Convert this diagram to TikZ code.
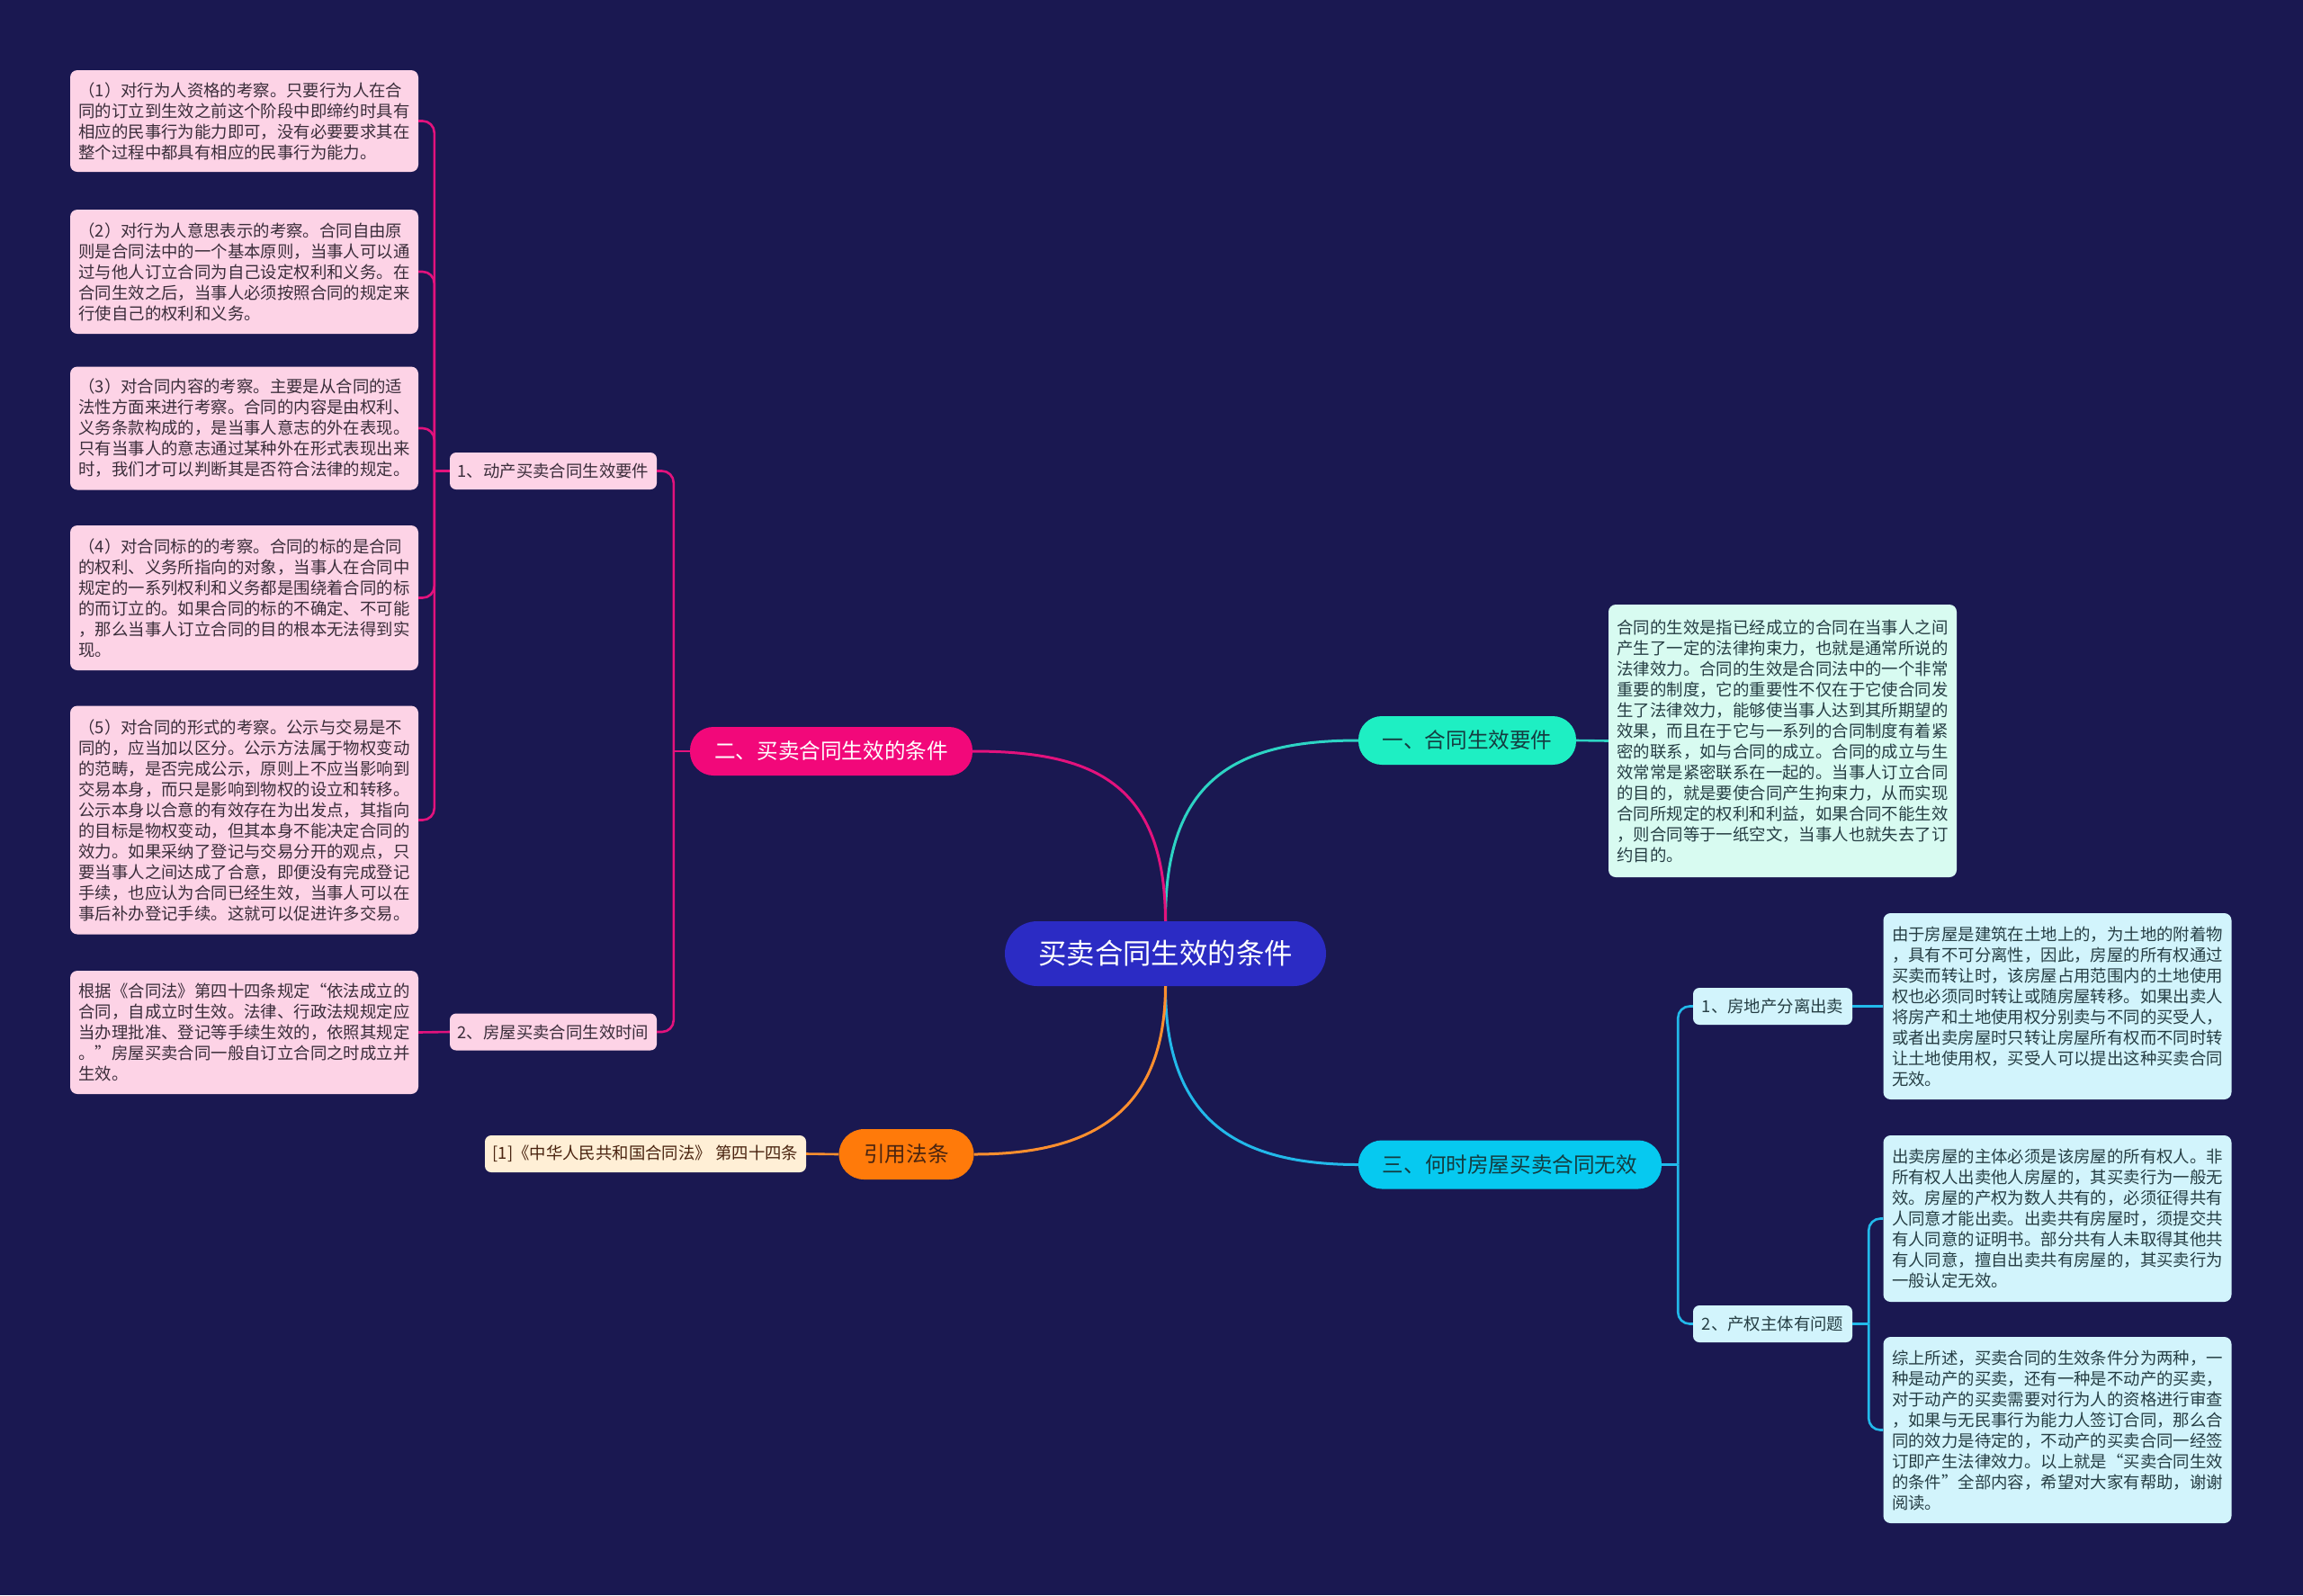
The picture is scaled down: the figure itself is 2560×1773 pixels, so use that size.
\documentclass[tikz,border=0pt]{standalone}
\usepackage{fontspec}
\setmainfont{Noto Sans CJK SC}
\definecolor{bg}{HTML}{1A1851}
\definecolor{lfill}{HTML}{FDD3E6}
\definecolor{ltext}{HTML}{3A2D3A}
\definecolor{r0fill}{HTML}{D8FBF1}
\definecolor{rfill}{HTML}{D2F4FC}
\definecolor{rtext}{HTML}{263E44}
\definecolor{cfill}{HTML}{2B2BC4}
\definecolor{tealfill}{HTML}{1EEFC3}
\definecolor{cyanfill}{HTML}{06C9F0}
\definecolor{pinkfill}{HTML}{F2087A}
\definecolor{orangefill}{HTML}{FF7A0A}
\definecolor{reffill}{HTML}{FFEFD6}
\definecolor{tealline}{HTML}{2DD4C4}
\definecolor{cyanline}{HTML}{22B9EA}
\definecolor{pinkline}{HTML}{E3127D}
\definecolor{orangeline}{HTML}{FF8F2E}
\definecolor{darkpill}{HTML}{143C40}
\definecolor{browntext}{HTML}{4A2410}
\begin{document}
\begin{tikzpicture}[x=1pt,y=-1pt,
  textbox/.style={rounded corners=8pt, inner xsep=9.5pt, inner ysep=0pt,
    text width=368pt, align=left, anchor=center,
    font=\fontsize{18.4}{23}\selectfont},
  lbox/.style={textbox, fill=lfill, text=ltext, minimum width=387pt},
  rbox/.style={textbox, fill=rfill, text=rtext, minimum width=386pt},
  pill/.style={rounded corners=26pt, minimum height=54pt, inner xsep=4pt,
    font=\fontsize{23.6}{28}\selectfont, anchor=center},
  subnode/.style={rounded corners=7pt, minimum height=41pt, inner xsep=4pt,
    font=\fontsize{18.4}{22}\selectfont, anchor=center},
  conn/.style={line width=2.6pt},
  mainline/.style={line width=3pt},
  elbow/.style={line width=2.6pt, rounded corners=13pt}
]
\useasboundingbox (0,0) rectangle (2560,1773);
\fill[bg] (0,0) rectangle (2560,1773);

% central
\node[pill, fill=cfill, text=white, minimum width=357pt, minimum height=72pt,
  rounded corners=36pt, font=\fontsize{31.4}{36}\selectfont] (C) at (1295.5,1060) {买卖合同生效的条件};

% level 1
\node[pill, fill=tealfill, text=darkpill, minimum width=242pt] (N1) at (1631,823) {一、合同生效要件};
\node[pill, fill=pinkfill, text=white, minimum width=314pt] (N2) at (924,835) {二、买卖合同生效的条件};
\node[pill, fill=cyanfill, text=darkpill, minimum width=337pt] (N3) at (1678.5,1294.5) {三、何时房屋买卖合同无效};
\node[pill, fill=orangefill, text=browntext, minimum width=150pt, minimum height=56pt, rounded corners=28pt] (N4) at (1007.5,1283) {引用法条};

% level 2
\node[subnode, fill=lfill, text=ltext, minimum width=230pt] (S21) at (615,523.5) {1、动产买卖合同生效要件};
\node[subnode, fill=lfill, text=ltext, minimum width=230pt] (S22) at (615,1147) {2、房屋买卖合同生效时间};
\node[subnode, fill=rfill, text=rtext, minimum width=177pt] (S31) at (1970.5,1118.5) {1、房地产分离出卖};
\node[subnode, fill=rfill, text=rtext, minimum width=177pt] (S32) at (1970.5,1471.5) {2、产权主体有问题};
\node[subnode, fill=reffill, text=browntext, minimum width=357pt] (Ref) at (717.5,1282.5) {[1]《中华人民共和国合同法》 第四十四条};

% left boxes
\node[lbox, minimum height=113pt] (L1) at (271.5,134.5) {（1）对行为人资格的考察。只要行为人在合\\同的订立到生效之前这个阶段中即缔约时具有\\相应的民事行为能力即可，没有必要要求其在\\整个过程中都具有相应的民事行为能力。};
\node[lbox, minimum height=138pt] (L2) at (271.5,302) {（2）对行为人意思表示的考察。合同自由原\\则是合同法中的一个基本原则，当事人可以通\\过与他人订立合同为自己设定权利和义务。在\\合同生效之后，当事人必须按照合同的规定来\\行使自己的权利和义务。};
\node[lbox, minimum height=137pt] (L3) at (271.5,476) {（3）对合同内容的考察。主要是从合同的适\\法性方面来进行考察。合同的内容是由权利、\\义务条款构成的，是当事人意志的外在表现。\\只有当事人的意志通过某种外在形式表现出来\\时，我们才可以判断其是否符合法律的规定。};
\node[lbox, minimum height=161pt] (L4) at (271.5,664.5) {（4）对合同标的的考察。合同的标的是合同\\的权利、义务所指向的对象，当事人在合同中\\规定的一系列权利和义务都是围绕着合同的标\\的而订立的。如果合同的标的不确定、不可能\\，那么当事人订立合同的目的根本无法得到实\\现。};
\node[lbox, minimum height=254pt] (L5) at (271.5,911.5) {（5）对合同的形式的考察。公示与交易是不\\同的，应当加以区分。公示方法属于物权变动\\的范畴，是否完成公示，原则上不应当影响到\\交易本身，而只是影响到物权的设立和转移。\\公示本身以合意的有效存在为出发点，其指向\\的目标是物权变动，但其本身不能决定合同的\\效力。如果采纳了登记与交易分开的观点，只\\要当事人之间达成了合意，即便没有完成登记\\手续，也应认为合同已经生效，当事人可以在\\事后补办登记手续。这就可以促进许多交易。};
\node[lbox, minimum height=137pt] (L6) at (271.5,1147.5) {根据《合同法》第四十四条规定“依法成立的\\合同，自成立时生效。法律、行政法规规定应\\当办理批准、登记等手续生效的，依照其规定\\。”房屋买卖合同一般自订立合同之时成立并\\生效。};

% right boxes
\node[textbox, fill=r0fill, text=rtext, minimum width=387pt, minimum height=303pt] (R0) at (1981.5,823.5) {合同的生效是指已经成立的合同在当事人之间\\产生了一定的法律拘束力，也就是通常所说的\\法律效力。合同的生效是合同法中的一个非常\\重要的制度，它的重要性不仅在于它使合同发\\生了法律效力，能够使当事人达到其所期望的\\效果，而且在于它与一系列的合同制度有着紧\\密的联系，如与合同的成立。合同的成立与生\\效常常是紧密联系在一起的。当事人订立合同\\的目的，就是要使合同产生拘束力，从而实现\\合同所规定的权利和利益，如果合同不能生效\\，则合同等于一纸空文，当事人也就失去了订\\约目的。};
\node[rbox, minimum height=207pt] (R1) at (2287,1118.5) {由于房屋是建筑在土地上的，为土地的附着物\\，具有不可分离性，因此，房屋的所有权通过\\买卖而转让时，该房屋占用范围内的土地使用\\权也必须同时转让或随房屋转移。如果出卖人\\将房产和土地使用权分别卖与不同的买受人，\\或者出卖房屋时只转让房屋所有权而不同时转\\让土地使用权，买受人可以提出这种买卖合同\\无效。};
\node[rbox, minimum height=185pt] (R2) at (2287,1354.5) {出卖房屋的主体必须是该房屋的所有权人。非\\所有权人出卖他人房屋的，其买卖行为一般无\\效。房屋的产权为数人共有的，必须征得共有\\人同意才能出卖。出卖共有房屋时，须提交共\\有人同意的证明书。部分共有人未取得其他共\\有人同意，擅自出卖共有房屋的，其买卖行为\\一般认定无效。};
\node[rbox, minimum height=207pt] (R3) at (2287,1589.5) {综上所述，买卖合同的生效条件分为两种，一\\种是动产的买卖，还有一种是不动产的买卖，\\对于动产的买卖需要对行为人的资格进行审查\\，如果与无民事行为能力人签订合同，那么合\\同的效力是待定的，不动产的买卖合同一经签\\订即产生法律效力。以上就是“买卖合同生效\\的条件”全部内容，希望对大家有帮助，谢谢\\阅读。};

% main curves
\draw[mainline, tealline] (C.north) .. controls (1295,865) and (1375,823) .. (N1.west);
\draw[mainline, pinkline] (C.north) .. controls (1295,870) and (1215,835) .. (N2.east);
\draw[mainline, cyanline] (C.south) .. controls (1295,1245) and (1375,1294.5) .. (N3.west);
\draw[mainline, orangeline] (C.south) .. controls (1295,1235) and (1215,1283) .. (N4.east);

% branch junctions
\coordinate (j2) at ([xshift=-18pt]N2.west);
\coordinate (j21) at ([xshift=-17pt]S21.west);
\coordinate (j3) at ([xshift=18pt]N3.east);
\coordinate (j32) at ([xshift=18pt]S32.east);

% pink subtree
\draw[conn, pinkline] (N2.west) -- (j2);
\draw[elbow, pinkline] (j2) |- (S21.east);
\draw[elbow, pinkline] (j2) |- (S22.east);
\draw[conn, pinkline] (S21.west) -- (j21);
\draw[elbow, pinkline] (j21) |- (L1.east);
\draw[elbow, pinkline] (j21) |- (L2.east);
\draw[elbow, pinkline] (j21) |- (L3.east);
\draw[elbow, pinkline] (j21) |- (L4.east);
\draw[elbow, pinkline] (j21) |- (L5.east);
\draw[conn, pinkline] (S22.west) -- (L6.east);

% teal
\draw[conn, tealline] (N1.east) -- (R0.west);

% cyan subtree
\draw[conn, cyanline] (N3.east) -- (j3);
\draw[elbow, cyanline] (j3) |- (S31.west);
\draw[elbow, cyanline] (j3) |- (S32.west);
\draw[conn, cyanline] (S31.east) -- (R1.west);
\draw[conn, cyanline] (S32.east) -- (j32);
\draw[elbow, cyanline] (j32) |- (R2.west);
\draw[elbow, cyanline] (j32) |- (R3.west);

% orange
\draw[conn, orangeline] (N4.west) -- (Ref.east);
\end{tikzpicture}
\end{document}
